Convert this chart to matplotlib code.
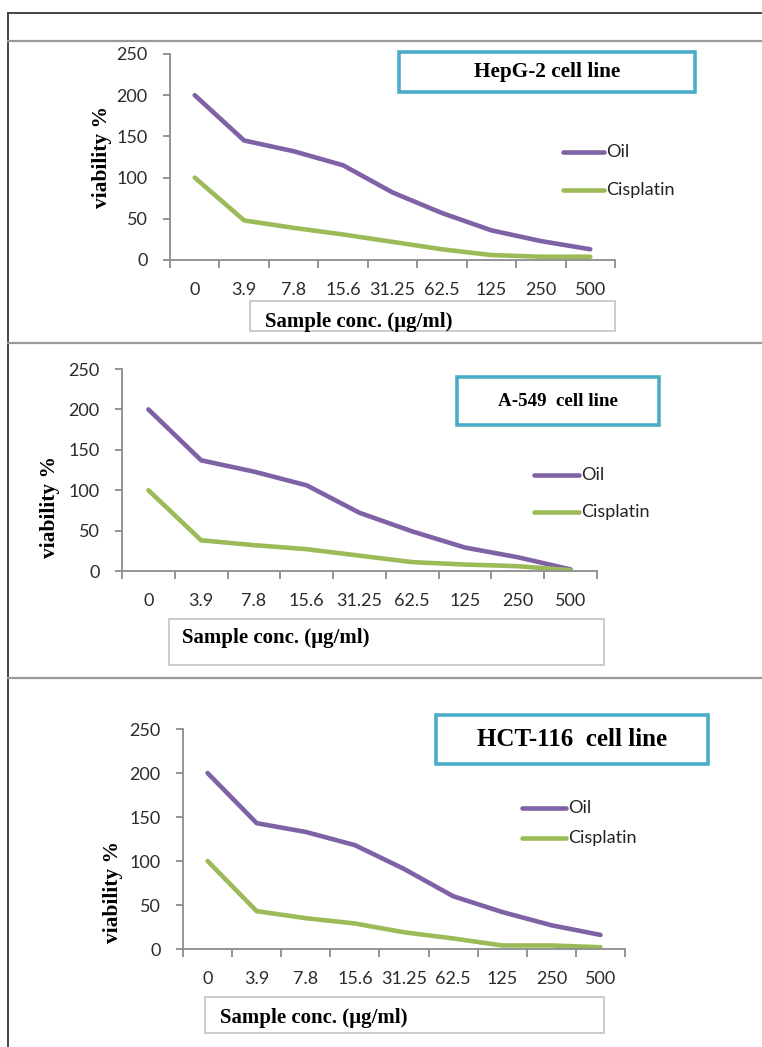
import numpy as np
import matplotlib
matplotlib.use("Agg")
import matplotlib.pyplot as plt
from matplotlib.patches import Rectangle
from matplotlib.lines import Line2D

# ---------------- data ----------------
concentrations = ["0", "3.9", "7.8", "15.6", "31.25", "62.5", "125", "250", "500"]
series_names = ["Oil", "Cisplatin"]

hepg2_oil = [200, 145, 132, 115, 82, 57, 36, 23, 13]
hepg2_cis = [100, 48, 39, 31, 22, 13, 6, 4, 4]

a549_oil = [200, 137, 123, 106, 72, 49, 29, 17, 2]
a549_cis = [100, 38, 32, 27, 19, 11, 8, 6, 1]

hct116_oil = [200, 143, 133, 118, 91, 60, 42, 27, 16]
hct116_cis = [100, 43, 35, 29, 19, 12, 4, 4, 2]

panel_titles = ["HepG-2 cell line", "A-549  cell line", "HCT-116  cell line"]
y_ticks = [0, 50, 100, 150, 200, 250]
y_label = "viability %"
x_label = "Sample conc. (\u00b5g/ml)"

oil_color = "#7f62a6"
cis_color = "#9bbb59"
title_edge = "#4bacc6"

# ---------------- layout (pixels) ----------------
W, H = 762, 1047
fig = plt.figure(figsize=(W / 100, H / 100), dpi=100)


def fx(x):
    return x / W


def fy(y):
    return 1 - y / H


def rect(l, t, r, b):
    return [l / W, 1 - b / H, (r - l) / W, (b - t) / H]


panels = [
    dict(oil=hepg2_oil, cis=hepg2_cis, title=panel_titles[0], tsize=15.3,
         ax=(170, 54, 615, 260), tbox=(399, 52, 695, 92),
         leg=(563, 604, 152, 190), ylab=(102, 157),
         xbox=(250, 301, 615, 331), xtext=(265, 322)),
    dict(oil=a549_oil, cis=a549_cis, title=panel_titles[1], tsize=13.7,
         ax=(122, 369, 597, 571), tbox=(457, 377, 659, 425),
         leg=(534, 579, 475, 512), ylab=(50, 507),
         xbox=(169, 619, 604, 665), xtext=(182, 638)),
    dict(oil=hct116_oil, cis=hct116_cis, title=panel_titles[2], tsize=18,
         ax=(183, 729, 625, 949), tbox=(436, 715, 708, 764),
         leg=(522, 566, 808, 838), ylab=(113, 892),
         xbox=(205, 997, 604, 1033), xtext=(220, 1018)),
]

tick_font = dict(family=["Lato", "DejaVu Sans"], size=13)
serif_bold = dict(family=["Liberation Serif", "DejaVu Serif"], weight="bold")

# frame lines
fig.add_artist(Line2D([fx(8), fx(762)], [fy(13), fy(13)], color="#444444", lw=1.4,
                      transform=fig.transFigure))
fig.add_artist(Line2D([fx(8), fx(8)], [fy(13), fy(1047)], color="#444444", lw=1.4,
                      transform=fig.transFigure))
for yy in (41, 343, 678):
    fig.add_artist(Line2D([fx(8), fx(762)], [fy(yy), fy(yy)], color="#9a9a9a", lw=1.6,
                          transform=fig.transFigure))

x = np.arange(len(concentrations))
for p in panels:
    l, t, r, b = p["ax"]
    ax = fig.add_axes(rect(l, t, r, b))
    ax.plot(x, p["oil"], color=oil_color, lw=3.3, solid_joinstyle="round",
            solid_capstyle="round", label=series_names[0])
    ax.plot(x, p["cis"], color=cis_color, lw=3.3, solid_joinstyle="round",
            solid_capstyle="round", label=series_names[1])
    ax.set_xlim(-0.5, len(concentrations) - 0.5)
    ax.set_ylim(0, 250)
    for s in ("top", "right"):
        ax.spines[s].set_visible(False)
    for s in ("left", "bottom"):
        ax.spines[s].set_color("#8c8c8c")
        ax.spines[s].set_linewidth(1.3)
    ax.set_yticks(y_ticks)
    ax.set_yticklabels([str(v) for v in y_ticks], **tick_font, color="#2b2b2b")
    ax.set_xticks(np.arange(-0.5, len(concentrations), 1.0))
    ax.set_xticklabels([])
    ax.set_xticks(x, minor=True)
    ax.set_xticklabels(concentrations, minor=True, **tick_font, color="#2b2b2b")
    ax.tick_params(axis="x", which="major", length=6, width=1.3, color="#8c8c8c",
                   direction="out")
    ax.tick_params(axis="x", which="minor", length=0, pad=16)
    ax.tick_params(axis="y", length=5, width=1.3, color="#8c8c8c", pad=11)
    ax.patch.set_alpha(0)

    # title box
    tl, tt, tr, tb = p["tbox"]
    fig.add_artist(Rectangle((fx(tl), fy(tb)), fx(tr - tl), (tb - tt) / H,
                             transform=fig.transFigure, facecolor="white",
                             edgecolor=title_edge, lw=2.6))
    fig.text(fx((tl + tr) / 2), fy((tt + tb) / 2), p["title"], ha="center",
             va="center", size=p["tsize"], **serif_bold)

    # legend
    x1, x2, yo, yc = p["leg"]
    for name, col, yy in ((series_names[0], oil_color, yo), (series_names[1], cis_color, yc)):
        fig.add_artist(Line2D([fx(x1), fx(x2)], [fy(yy), fy(yy)], color=col, lw=3.3,
                              transform=fig.transFigure, solid_capstyle="round"))
        fig.text(fx(x2 + 2), fy(yy), name, ha="left", va="center",
                 color="#222222", **tick_font)

    # y label
    fig.text(fx(p["ylab"][0]), fy(p["ylab"][1]), y_label, rotation=90, ha="center",
             va="center", size=15.5, **serif_bold)

    # x label box
    bl, bt, br, bb = p["xbox"]
    fig.add_artist(Rectangle((fx(bl), fy(bb)), fx(br - bl), (bb - bt) / H,
                             transform=fig.transFigure, facecolor="none",
                             edgecolor="#c8c8c8", lw=1.3))
    fig.text(fx(p["xtext"][0]), fy(p["xtext"][1]), x_label, ha="left", va="center",
             size=15, **serif_bold)

fig.savefig("out.png", dpi=100)
